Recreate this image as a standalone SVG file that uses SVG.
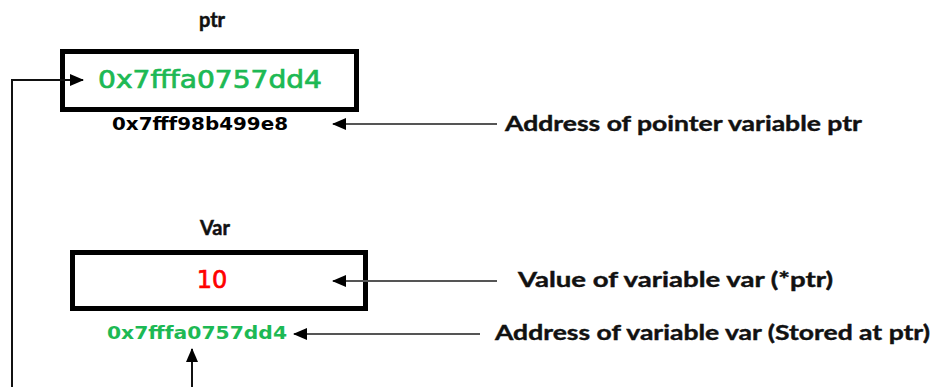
<svg xmlns="http://www.w3.org/2000/svg" width="934" height="387" viewBox="0 0 934 387">
<style>
.box{fill:#fff;stroke:#000;stroke-width:5}
.lbl{font-family:Lato,"Liberation Sans",sans-serif;font-weight:bold;font-size:20px;fill:#111;stroke:#111;stroke-width:0.4}
.name{font-family:Lato,"Liberation Sans",sans-serif;font-weight:bold;font-size:20px;fill:#111;stroke:#111;stroke-width:0.5}
.val{font-family:"DejaVu Sans",Verdana,sans-serif;font-size:24px;stroke-width:0.7}
.addr{font-family:"DejaVu Sans",Verdana,sans-serif;font-weight:bold;font-size:18px}
.green{fill:#1db954;stroke:#1db954}
.ln{stroke:#555;stroke-width:2;fill:none}
.blk{stroke:#111;stroke-width:2;fill:none}
</style>
<defs>
<marker id="ah" markerWidth="14" markerHeight="12" refX="13" refY="6" orient="auto" markerUnits="userSpaceOnUse">
<path d="M0,0 L14,6 L0,12 Z" fill="#000"/>
</marker>
</defs>
<g id="ptr">
<text class="name" x="212" y="27" text-anchor="middle">ptr</text>
<rect class="box" x="62.5" y="51.5" width="294" height="58"/>
<text class="val green" x="98" y="88" textLength="224" lengthAdjust="spacingAndGlyphs">0x7fffa0757dd4</text>
<text class="addr" x="112" y="130" fill="#000" textLength="176" lengthAdjust="spacingAndGlyphs">0x7fff98b499e8</text>
</g>
<g id="var">
<text class="name" x="215" y="235" text-anchor="middle">Var</text>
<rect class="box" x="72.5" y="252.5" width="293" height="56"/>
<text class="val" x="212" y="288" text-anchor="middle" fill="#ff0000" stroke="#ff0000" stroke-width="1">10</text>
<text class="addr" x="107" y="339" fill="#1db954" textLength="180" lengthAdjust="spacingAndGlyphs">0x7fffa0757dd4</text>
</g>
<g id="labels">
<text class="lbl" x="505" y="131" textLength="357" lengthAdjust="spacingAndGlyphs">Address of pointer variable ptr</text>
<text class="lbl" x="518" y="287" textLength="315" lengthAdjust="spacingAndGlyphs">Value of variable var (*ptr)</text>
<text class="lbl" x="495" y="340" textLength="435" lengthAdjust="spacingAndGlyphs">Address of variable var (Stored at ptr)</text>
</g>
<g id="connectors">
<line class="ln" x1="497" y1="124" x2="333" y2="124" marker-end="url(#ah)"/>
<line class="ln" x1="497" y1="281" x2="333" y2="281" marker-end="url(#ah)"/>
<line class="ln" x1="480" y1="334" x2="294" y2="334" marker-end="url(#ah)"/>
<polyline class="blk" points="12,387 12,80 83,80" marker-end="url(#ah)"/>
<line class="blk" x1="192" y1="387" x2="192" y2="349" marker-end="url(#ah)"/>
</g>
</svg>
